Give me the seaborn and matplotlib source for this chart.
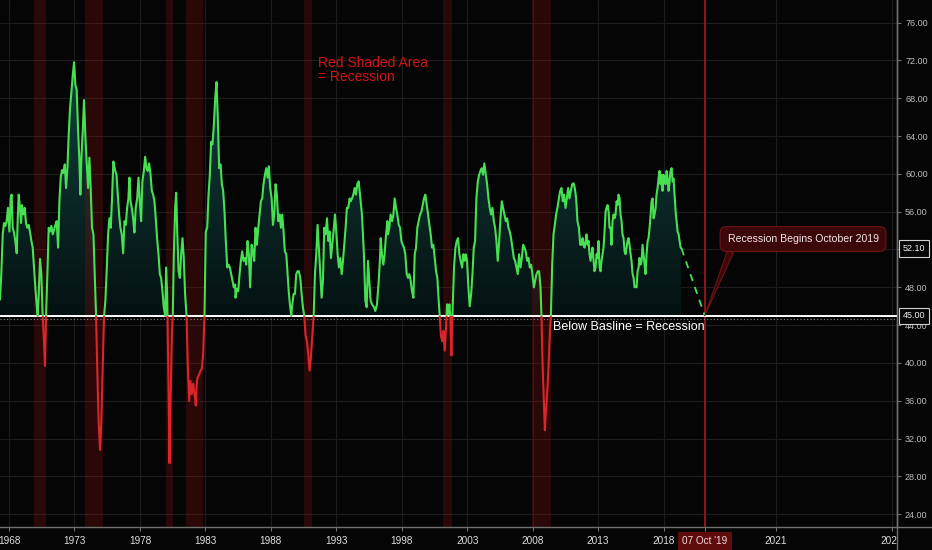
import numpy as np
import matplotlib
matplotlib.use("Agg")
import matplotlib.pyplot as plt
import matplotlib.transforms as mtransforms
from matplotlib.colors import LinearSegmentedColormap
from matplotlib.lines import Line2D
from matplotlib.patches import Rectangle
from matplotlib.path import Path
import seaborn as sns

# ---------------- data ----------------
years_a = [1967.31, 1967.41, 1967.52, 1967.62, 1967.72, 1967.82, 1967.92, 1968.03, 1968.13, 1968.20,
           1968.28, 1968.38, 1968.48, 1968.59, 1968.66, 1968.74, 1968.84, 1968.92, 1968.99, 1969.10,
           1969.20, 1969.30, 1969.40, 1969.50, 1969.61, 1969.71, 1969.81, 1969.91, 1970.01, 1970.11,
           1970.19, 1970.27, 1970.37, 1970.47, 1970.57, 1970.65, 1970.75, 1970.83, 1970.93, 1971.03,
           1971.13, 1971.24, 1971.34, 1971.44, 1971.54, 1971.64, 1971.75, 1971.85, 1971.95, 1972.05,
           1972.15, 1972.26, 1972.36, 1972.46, 1972.56, 1972.66, 1972.77, 1972.87, 1972.97, 1973.07,
           1973.17, 1973.27, 1973.38, 1973.45, 1973.53, 1973.63, 1973.73, 1973.84, 1973.94, 1974.04,
           1974.14, 1974.24, 1974.34, 1974.45, 1974.55, 1974.65, 1974.75, 1974.85, 1974.96, 1975.06,
           1975.16, 1975.26, 1975.36, 1975.47, 1975.57, 1975.67, 1975.77, 1975.87, 1975.97]
pmi_a = [46.7, 49.4, 53.6, 54.8, 54.5, 55.0, 56.4, 53.9, 57.4, 57.8,
         54.3, 53.8, 52.9, 51.6, 55.0, 57.8, 56.4, 54.8, 56.7, 55.7,
         56.4, 54.8, 54.3, 54.6, 53.8, 52.9, 52.2, 50.1, 48.0, 46.2,
         45.0, 47.3, 51.0, 49.4, 45.0, 43.0, 39.7, 45.0, 49.4, 54.3,
         53.9, 54.5, 53.6, 54.1, 54.6, 55.0, 52.2, 57.1, 59.6, 60.4,
         60.1, 61.0, 58.5, 60.6, 64.1, 66.9, 68.7, 70.4, 71.8, 69.4,
         68.9, 64.8, 61.3, 57.8, 61.7, 64.5, 67.8, 63.8, 61.0, 58.5,
         61.7, 58.5, 54.3, 53.6, 49.4, 45.0, 38.8, 33.6, 30.8, 34.3,
         39.5, 45.0, 46.6, 50.1, 53.6, 55.3, 54.3, 57.4, 61.3]

years_b = [1976.10, 1976.21, 1976.31, 1976.41, 1976.51, 1976.61, 1976.72, 1976.82, 1976.92, 1977.02,
           1977.12, 1977.20, 1977.28, 1977.38, 1977.48, 1977.58, 1977.68, 1977.79, 1977.89, 1977.99,
           1978.09, 1978.19, 1978.30, 1978.40, 1978.50, 1978.60, 1978.70, 1978.80, 1978.91, 1979.01,
           1979.11, 1979.21, 1979.31, 1979.42, 1979.52, 1979.62, 1979.72, 1979.82, 1979.93, 1980.00,
           1980.08, 1980.18, 1980.26, 1980.33, 1980.44, 1980.51, 1980.59, 1980.69, 1980.77, 1980.84,
           1980.95, 1981.05, 1981.15, 1981.25, 1981.35, 1981.45, 1981.56, 1981.66, 1981.76, 1981.86,
           1981.96, 1982.07, 1982.17, 1982.27, 1982.35, 1982.42, 1982.53, 1982.63, 1982.73, 1982.83,
           1982.93, 1983.03, 1983.14, 1983.24, 1983.34, 1983.44, 1983.54, 1983.65, 1983.75, 1983.85,
           1983.95, 1984.05, 1984.16, 1984.26, 1984.36, 1984.46, 1984.56, 1984.67, 1984.77, 1984.87,
           1984.97, 1985.07, 1985.17, 1985.28]
pmi_b = [60.4, 59.9, 57.8, 55.7, 54.3, 53.6, 51.6, 55.0, 54.6, 56.4,
         57.4, 59.6, 57.1, 56.4, 55.3, 53.8, 56.4, 57.4, 59.6, 57.1,
         55.0, 59.2, 60.3, 61.8, 60.6, 60.3, 61.1, 60.1, 58.2, 57.8,
         57.1, 55.3, 53.2, 51.5, 49.4, 49.0, 47.6, 45.9, 45.0, 50.1,
         47.3, 38.1, 29.4, 35.3, 43.0, 45.0, 51.5, 56.4, 58.0, 54.3,
         49.7, 49.0, 51.5, 53.2, 51.1, 47.3, 45.0, 39.5, 36.0, 38.1,
         36.7, 37.8, 36.7, 35.5, 38.1, 38.5, 38.8, 39.2, 39.4, 40.9,
         45.0, 53.9, 54.3, 57.8, 59.9, 63.4, 63.1, 65.2, 68.0, 69.7,
         65.9, 60.6, 61.0, 58.9, 58.2, 56.0, 52.9, 50.1, 50.4, 50.1,
         49.4, 48.7, 48.0, 48.3]

years_c = [1985.30, 1985.41, 1985.51, 1985.61, 1985.71, 1985.81, 1985.92, 1986.02, 1986.12, 1986.22,
           1986.32, 1986.42, 1986.53, 1986.63, 1986.73, 1986.83, 1986.93, 1987.04, 1987.14, 1987.24,
           1987.34, 1987.44, 1987.55, 1987.65, 1987.75, 1987.85, 1987.95, 1988.06, 1988.16, 1988.26,
           1988.36, 1988.46, 1988.57, 1988.67, 1988.77, 1988.87, 1988.97, 1989.07, 1989.18, 1989.28,
           1989.38, 1989.48, 1989.56, 1989.64, 1989.74, 1989.84, 1989.94, 1990.04, 1990.14, 1990.25,
           1990.35, 1990.45, 1990.55, 1990.65, 1990.76, 1990.86, 1990.96, 1991.06, 1991.17, 1991.27,
           1991.37, 1991.47, 1991.57, 1991.67, 1991.78, 1991.88, 1991.98, 1992.08, 1992.18, 1992.29,
           1992.39, 1992.49, 1992.59, 1992.69, 1992.79, 1992.90, 1993.00, 1993.10, 1993.20, 1993.31,
           1993.41, 1993.51, 1993.61, 1993.71, 1993.81, 1993.91, 1994.02]
pmi_c = [46.9, 47.8, 47.6, 49.4, 50.8, 51.8, 50.8, 51.1, 50.4, 52.9,
         51.5, 48.0, 52.5, 51.8, 50.8, 54.3, 52.5, 54.3, 55.7, 57.1,
         57.4, 58.9, 59.9, 60.6, 59.6, 60.8, 58.5, 57.4, 54.6, 55.7,
         58.9, 57.8, 55.0, 55.7, 54.3, 55.7, 53.9, 51.8, 51.5, 49.4,
         47.3, 45.9, 45.0, 46.2, 47.3, 47.3, 49.4, 49.7, 49.7, 49.0,
         47.3, 45.9, 45.0, 43.0, 42.3, 40.9, 39.2, 40.6, 43.0, 45.0,
         49.4, 51.5, 54.6, 52.2, 49.4, 46.9, 48.7, 54.3, 53.6, 55.3,
         52.9, 53.9, 51.1, 52.5, 53.9, 55.7, 53.9, 51.5, 50.1, 51.1,
         49.4, 50.8, 52.5, 54.3, 56.4, 56.4, 57.4]

years_d = [1994.10, 1994.20, 1994.30, 1994.40, 1994.50, 1994.60, 1994.71, 1994.81, 1994.96, 1995.11,
           1995.22, 1995.32, 1995.42, 1995.52, 1995.62, 1995.73, 1995.88, 1995.98, 1996.11, 1996.24,
           1996.34, 1996.39, 1996.49, 1996.59, 1996.69, 1996.80, 1996.90, 1996.95, 1997.05, 1997.15,
           1997.26, 1997.36, 1997.46, 1997.56, 1997.66, 1997.77, 1997.87, 1997.97, 1998.07, 1998.17,
           1998.27, 1998.38, 1998.48, 1998.58, 1998.68, 1998.78, 1998.89, 1998.99, 1999.09, 1999.19,
           1999.29, 1999.40, 1999.50, 1999.60, 1999.70, 1999.80, 1999.91, 2000.01, 2000.11, 2000.21,
           2000.31, 2000.41, 2000.52, 2000.62, 2000.72, 2000.82, 2000.90, 2000.98, 2001.08, 2001.18,
           2001.28, 2001.38, 2001.46, 2001.54, 2001.64, 2001.71, 2001.79, 2001.89, 2001.99, 2002.10,
           2002.20, 2002.30, 2002.40, 2002.50, 2002.61, 2002.71, 2002.81]
pmi_d = [57.1, 57.4, 57.8, 58.5, 57.8, 58.9, 59.2, 57.8, 55.7, 51.5,
         46.6, 45.9, 50.8, 48.7, 46.6, 46.2, 45.9, 45.5, 46.2, 48.7,
         51.1, 53.2, 51.5, 50.4, 51.5, 53.6, 55.0, 53.6, 54.3, 55.7,
         55.0, 55.7, 57.4, 56.4, 55.7, 54.6, 54.3, 52.9, 52.5, 52.2,
         51.5, 49.4, 49.0, 49.4, 48.7, 47.6, 46.9, 51.5, 52.2, 54.3,
         55.0, 55.7, 56.0, 56.7, 57.4, 57.8, 56.7, 55.7, 54.6, 53.6,
         52.2, 52.5, 51.1, 49.7, 49.0, 46.6, 45.0, 43.0, 42.3, 43.4,
         41.3, 43.8, 46.2, 45.2, 46.2, 44.8, 40.8, 45.9, 50.1, 52.2,
         52.9, 53.2, 51.5, 50.8, 50.1, 51.5, 50.8]

years_e = [2002.89, 2002.99, 2003.09, 2003.19, 2003.30, 2003.40, 2003.50, 2003.60, 2003.70, 2003.81,
           2003.91, 2004.01, 2004.11, 2004.21, 2004.31, 2004.42, 2004.52, 2004.62, 2004.72, 2004.82,
           2004.93, 2005.03, 2005.13, 2005.23, 2005.33, 2005.44, 2005.54, 2005.64, 2005.74, 2005.84,
           2005.95, 2006.05, 2006.15, 2006.25, 2006.35, 2006.45, 2006.56, 2006.66, 2006.76, 2006.86,
           2006.96, 2007.07, 2007.17, 2007.27, 2007.37, 2007.47, 2007.58, 2007.68, 2007.78, 2007.88,
           2007.98, 2008.09, 2008.19, 2008.29, 2008.39, 2008.49, 2008.60, 2008.67, 2008.75, 2008.85,
           2008.93, 2009.00, 2009.10, 2009.21, 2009.31, 2009.39, 2009.49, 2009.59, 2009.69, 2009.79,
           2009.89, 2010.00, 2010.10, 2010.20, 2010.30, 2010.40, 2010.51, 2010.61, 2010.71, 2010.81,
           2010.91, 2011.02, 2011.12, 2011.22, 2011.32, 2011.42, 2011.53, 2011.63]
pmi_e = [51.5, 50.8, 48.0, 46.0, 47.3, 49.4, 52.2, 52.9, 57.4, 59.2,
         59.9, 60.3, 60.6, 59.9, 61.1, 59.9, 58.9, 57.4, 56.4, 55.7,
         56.4, 55.0, 54.3, 52.9, 50.8, 52.9, 55.3, 57.1, 56.4, 55.7,
         55.0, 55.3, 54.3, 53.9, 53.2, 52.2, 51.1, 50.8, 50.1, 49.4,
         51.5, 50.1, 51.1, 52.5, 52.2, 51.8, 50.8, 51.1, 50.1, 50.4,
         49.4, 48.0, 48.7, 49.4, 49.7, 49.7, 48.0, 45.0, 40.2, 36.0,
         32.9, 34.6, 36.7, 39.5, 43.0, 45.0, 50.4, 53.6, 54.6, 55.7,
         56.4, 57.4, 58.2, 58.5, 57.1, 57.8, 56.4, 57.4, 58.5, 57.4,
         58.2, 58.9, 59.0, 58.5, 57.4, 55.0, 54.3, 52.5]

years_f = [2011.73, 2011.81, 2011.88, 2011.96, 2012.04, 2012.11, 2012.19, 2012.27, 2012.34, 2012.42,
           2012.50, 2012.57, 2012.65, 2012.72, 2012.80, 2012.88, 2012.95, 2013.03, 2013.11, 2013.18,
           2013.26, 2013.34, 2013.41, 2013.49, 2013.57, 2013.64, 2013.72, 2013.80, 2013.87, 2013.95,
           2014.02, 2014.10, 2014.18, 2014.25, 2014.33, 2014.41, 2014.48, 2014.56, 2014.64, 2014.71,
           2014.79, 2014.86, 2014.94, 2015.02, 2015.09, 2015.17, 2015.25, 2015.32, 2015.40, 2015.48,
           2015.55, 2015.63, 2015.71, 2015.78, 2015.86, 2015.94, 2016.01, 2016.09, 2016.16, 2016.24,
           2016.32, 2016.39, 2016.47, 2016.55, 2016.62, 2016.70, 2016.78, 2016.85, 2016.93, 2017.01,
           2017.08, 2017.16, 2017.23, 2017.31, 2017.39, 2017.46, 2017.54, 2017.62, 2017.69, 2017.77,
           2017.85, 2017.92, 2018.00, 2018.08, 2018.15, 2018.23, 2018.30, 2018.38, 2018.46, 2018.53,
           2018.61, 2018.69, 2018.76, 2018.84, 2018.92, 2018.99, 2019.07, 2019.15, 2019.22, 2019.30,
           2019.37]
pmi_f = [52.5, 53.2, 52.5, 52.2, 52.9, 53.6, 52.5, 52.9, 51.5, 50.8,
         51.5, 52.2, 50.8, 49.7, 50.1, 51.5, 51.1, 52.9, 50.1, 49.7,
         50.8, 51.5, 52.2, 53.9, 56.0, 56.4, 56.7, 56.0, 54.3, 54.3,
         52.5, 55.0, 55.7, 55.3, 55.7, 57.1, 56.7, 57.8, 57.4, 55.7,
         55.0, 53.6, 53.2, 51.8, 51.5, 52.2, 52.9, 53.2, 52.5, 51.5,
         50.8, 49.4, 49.0, 48.0, 48.1, 48.0, 49.7, 50.1, 51.1, 50.4,
         50.8, 52.5, 51.5, 50.4, 49.4, 51.5, 52.9, 53.2, 54.3, 55.7,
         57.1, 57.4, 55.3, 55.7, 56.4, 57.8, 58.5, 59.6, 60.3, 58.9,
         59.9, 58.2, 59.9, 59.6, 58.9, 60.3, 59.6, 58.2, 59.2, 60.3,
         60.6, 59.2, 59.5, 57.8, 56.0, 55.0, 53.9, 53.6, 52.9, 52.2,
         52.1]

# NBER recessions (shaded)
rec_start = [1969.92, 1973.83, 1980.00, 1981.50, 1990.50, 2001.17, 2007.92]
rec_end = [1970.83, 1975.17, 1980.50, 1982.83, 1991.17, 2001.83, 2009.42]

baseline = 45.0
last_value = 52.1
forecast_date = 2019.77          # 07 Oct 2019
proj_years = [2019.37, forecast_date]
proj_vals = [52.1, 45.0]

x_ticks = [1968, 1973, 1978, 1983, 1988, 1993, 1998, 2003, 2008, 2013, 2018, forecast_date, 2021, 2023]
x_labels = ["1968", "1973", "1978", "1983", "1988", "1993", "1998", "2003", "2008", "2013", "2018",
            "07 Oct '19", "2021", "2023"]
y_ticks = [24, 28, 32, 36, 40, 44, 48, 52, 56, 60, 64, 68, 72, 76]

years = np.array(years_a + years_b + years_c + years_d + years_e + years_f)
pmi = np.array(pmi_a + pmi_b + pmi_c + pmi_d + pmi_e + pmi_f)

# ---------------- style ----------------
BG = "#050505"
GREEN = "#47e052"
RED = "#d8262c"
SPINE = "#707070"
sns.set_theme(style="darkgrid", rc={
    "axes.facecolor": BG, "figure.facecolor": BG, "savefig.facecolor": BG,
    "grid.color": "#1d1d1d", "grid.linewidth": 0.8,
    "axes.edgecolor": SPINE, "axes.linewidth": 1.0,
    "text.color": "#dddddd",
})
plt.rcParams["font.family"] = ["Liberation Sans", "DejaVu Sans"]

# time axis: history compressed, the future area is spread (as in the trading view)
BREAK = 2019.37
RATIO = 4.43


def fwd(x):
    x = np.asarray(x, dtype=float)
    return np.where(x <= BREAK, x - BREAK, (x - BREAK) * RATIO)


def inv(u):
    u = np.asarray(u, dtype=float)
    return np.where(u <= 0, u + BREAK, u / RATIO + BREAK)


AX_RIGHT = 896.7 / 932
AX_BOTTOM = (550 - 526.7) / 550
fig = plt.figure(figsize=(9.32, 5.5), dpi=100)
ax = fig.add_axes([0.0, AX_BOTTOM, AX_RIGHT, 1 - AX_BOTTOM])
ax.set_xscale("function", functions=(fwd, inv))
XLIM = (1967.312, 2023.08)
YLIM = (22.69, 78.38)
ax.set_xlim(*XLIM)
ax.set_ylim(*YLIM)
ax.set_axisbelow(True)
ax.grid(True, color="#1d1d1d", linewidth=0.8)

blend = mtransforms.blended_transform_factory(ax.transAxes, ax.transData)

# gradient area above the baseline
poly = ax.fill_between(years, pmi, baseline, where=pmi >= baseline, interpolate=True,
                       facecolor="none", edgecolor="none", linewidth=0)
clip_path = Path.make_compound_path(*poly.get_paths())
grad = np.linspace(0.0, 1.0, 256).reshape(-1, 1)
teal = LinearSegmentedColormap.from_list("teal", ["#041111", "#12423f"])
img = ax.imshow(grad, extent=(years[0], years[-1], baseline, 72.0), origin="lower",
                aspect="auto", cmap=teal, interpolation="bilinear", zorder=1)
img.set_clip_path(clip_path, ax.transData)

# recession bands
for s, e in zip(rec_start, rec_end):
    ax.axvspan(s, e, color="#8a1010", alpha=0.29, lw=0, zorder=2)

# line: green above baseline, red below
sns.lineplot(x=years, y=pmi, ax=ax, color=GREEN, linewidth=1.5, estimator=None, sort=False, zorder=5)
green_line = ax.lines[-1]
green_line.set_clip_path(Rectangle((0, baseline), 1, 100, transform=blend))
sns.lineplot(x=years, y=pmi, ax=ax, color=RED, linewidth=1.5, estimator=None, sort=False, zorder=5)
red_line = ax.lines[-1]
red_line.set_clip_path(Rectangle((0, baseline - 100), 1, 100, transform=blend))

# projection
sns.lineplot(x=proj_years, y=proj_vals, ax=ax, color=GREEN, linewidth=1.3,
             linestyle=(0, (4, 3.5)), estimator=None, sort=False, zorder=5)

# baseline + dotted companion
ax.axhline(baseline, color="white", linewidth=1.4, zorder=4)
dot = ax.axhline(baseline, color="#8a8a8a", linewidth=0.8, linestyle=(0, (1, 2)), zorder=4)
dot.set_transform(dot.get_transform() + mtransforms.ScaledTranslation(0, -2.5 / 72, fig.dpi_scale_trans))

# forecast vertical line
ax.axvline(forecast_date, color="#8f1515", linewidth=1.4, zorder=3)

# annotations
ax.text(318 / 896.7, 1 - 70 / 526.7, "Red Shaded Area\n= Recession", transform=ax.transAxes,
        color="#d41414", fontsize=10, ha="left", va="center", linespacing=1.0, zorder=6)
ax.text(553 / 896.7, 1 - 327 / 526.7, "Below Basline = Recession", transform=ax.transAxes,
        color="white", fontsize=9, ha="left", va="center", zorder=6)
ax.annotate("Recession Begins October 2019", xy=(forecast_date, baseline), xycoords="data",
            xytext=(803 / 896.7, 1 - 239 / 526.7), textcoords="axes fraction",
            ha="center", va="center", fontsize=7.6, color="#f2e6e6", zorder=7,
            bbox=dict(boxstyle="round,pad=0.7,rounding_size=0.6", fc="#3c0709", ec="#6e1414", lw=0.8),
            arrowprops=dict(arrowstyle="wedge,tail_width=0.6,shrink_factor=0.5", fc="#3c0709",
                            ec="#6e1414", lw=0.8, relpos=(0.04, 0.0), shrinkA=0, shrinkB=0))

# price-scale labels in boxes
ax.text(1.0068, last_value, f"{last_value:.2f}", transform=blend, ha="left", va="center",
        fontsize=6.5, color="#eeeeee", clip_on=False, zorder=10,
        bbox=dict(boxstyle="square,pad=0.4", fc=BG, ec="#d0d0d0", lw=0.8))
ax.text(1.0068, baseline, f"{baseline:.2f}", transform=blend, ha="left", va="center",
        fontsize=6.5, color="#eeeeee", clip_on=False, zorder=10,
        bbox=dict(boxstyle="square,pad=0.4", fc=BG, ec="#d0d0d0", lw=0.8))

# ticks
ax.set_xticks(x_ticks, x_labels)
ax.yaxis.tick_right()
ax.set_yticks(y_ticks, [f"{v:.2f}" for v in y_ticks])
ax.tick_params(axis="x", bottom=True, length=3, width=0.8, color=SPINE, labelsize=7.2,
               labelcolor="#e0e0e0", pad=4)
ax.tick_params(axis="y", right=True, left=False, length=3, width=0.8, color=SPINE,
               labelsize=6.5, labelcolor="#bdbdbd", pad=3)
oct_lbl = ax.get_xticklabels()[x_labels.index("07 Oct '19")]
oct_lbl.set_bbox(dict(boxstyle="square,pad=0.45", fc="#5e0c0c", ec="none"))
oct_lbl.set_color("#f4dada")

for side in ["left", "top"]:
    ax.spines[side].set_visible(False)
for side in ["bottom", "right"]:
    ax.spines[side].set_color(SPINE)
    ax.spines[side].set_linewidth(1.0)
ax.set_xlabel("")
ax.set_ylabel("")
ax.set_xlim(*XLIM)
ax.set_ylim(*YLIM)

# price-scale / time-scale frame
fig.add_artist(Rectangle((AX_RIGHT + 0.0006, 0), 1 - AX_RIGHT, AX_BOTTOM - 0.001,
                         transform=fig.transFigure, fc=BG, ec="none", zorder=5))
fig.add_artist(Line2D([AX_RIGHT, AX_RIGHT], [0, 1], transform=fig.transFigure, color=SPINE, lw=1, zorder=6))
fig.add_artist(Line2D([AX_RIGHT, 1], [AX_BOTTOM, AX_BOTTOM], transform=fig.transFigure, color=SPINE,
                      lw=1, zorder=6))

fig.savefig("out.png", dpi=100, facecolor=BG)
